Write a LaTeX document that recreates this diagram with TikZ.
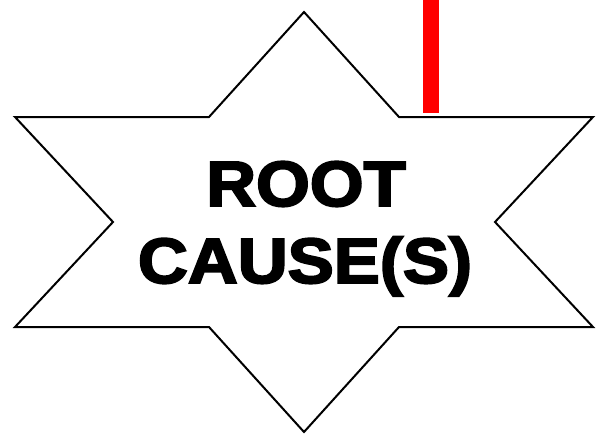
\documentclass[tikz,border=0pt]{standalone}
\usepackage{fontspec}
\usepackage{xcolor}
\usepackage{tikz}
\newfontfamily\causefont{Liberation Sans}[BoldFeatures={FakeBold=3}]
\definecolor{barred}{RGB}{255,0,0}

\begin{document}
\begin{tikzpicture}[
  x=1pt, y=-1pt,
  % ── star outline ─────────────────────────────────────────────────────────
  starline/.style={
    draw=black, line width=2pt, fill=white, line join=miter
  },
  % ── red marker bar ───────────────────────────────────────────────────────
  bar/.style={
    draw=barred, line width=16pt
  },
  % ── label text ───────────────────────────────────────────────────────────
  causetext/.style={
    font=\causefont\bfseries\fontsize{64}{77}\selectfont,
    inner sep=0pt, anchor=base, xscale=1.08
  },
]

\useasboundingbox (0,0) rectangle (596,433);

% ── Six-pointed star ────────────────────────────────────────────────────────
\draw[starline]
  (304,12) -- (399,117) -- (593,117) -- (495,222) -- (593,327)
  -- (399,327) -- (304,432) -- (209,327) -- (15,327) -- (113,222)
  -- (15,117) -- (209,117) -- cycle;

% ── Red bar from the top edge ───────────────────────────────────────────────
\coordinate (bartop) at (431,0);
\coordinate (barend) at (431,112.5);
\draw[bar] (bartop) -- (barend);

% ── Text ────────────────────────────────────────────────────────────────────
\node[causetext] (root)  at (306,206) {ROOT};
\node[causetext] (cause) at (305,283) {CAUSE(S)};

\end{tikzpicture}
\end{document}
